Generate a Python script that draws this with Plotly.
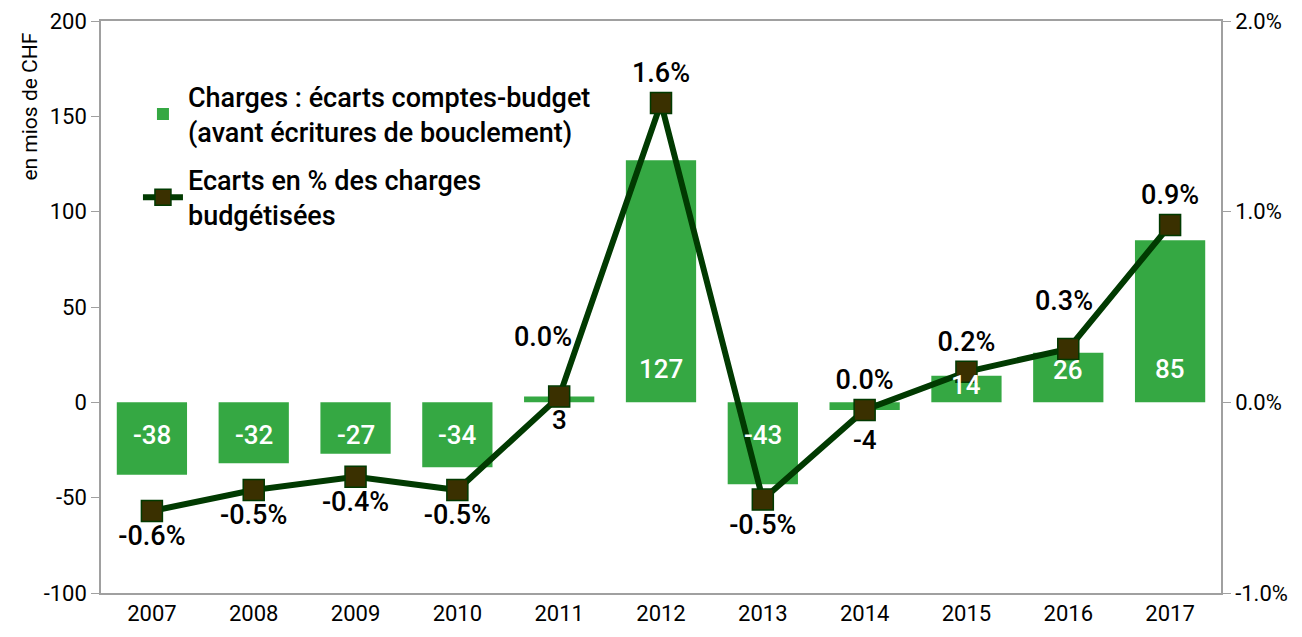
import plotly.graph_objects as go

years = ["2007", "2008", "2009", "2010", "2011", "2012", "2013", "2014", "2015", "2016", "2017"]
ecarts_mios = [-38, -32, -27, -34, 3, 127, -43, -4, 14, 26, 85]
ecarts_pct = [-0.57, -0.46, -0.39, -0.46, 0.03, 1.57, -0.51, -0.04, 0.16, 0.28, 0.93]
pct_label_pos = ["bottom center"] * 4 + ["top center", "top center", "bottom center",
                                          "top center", "top center", "top center", "top center"]

left_ticks = [-100, -50, 0, 50, 100, 150, 200]
right_ticks = [-1, 0, 1, 2]

FONT = "Roboto, Liberation Sans, sans-serif"
BAR_COLOR = "#35A843"
LINE_COLOR = "#013A01"
MARKER_COLOR = "#3A3000"
AXIS_COLOR = "#A0A0A0"


def pct_text(v):
    r = round(v, 1)
    if abs(r) < 0.05:
        r = 0.0
    return f"{r:.1f}%"


pct_texts = [pct_text(v) for v in ecarts_pct]
# labels that sit higher than the others in the reference: drawn as separate annotations
lifted = {4: (-16, 60), 9: (-4, 48)}

fig = go.Figure()

fig.add_trace(go.Bar(
    x=years, y=ecarts_mios, name="Charges : écarts comptes-budget<br>(avant écritures de bouclement)",
    marker=dict(color=BAR_COLOR, line=dict(width=0)),
    legendgroup="bars",
    yaxis="y", xaxis="x",
))

fig.add_trace(go.Scatter(
    x=years, y=ecarts_pct, name="Ecarts en % des charges<br>budgétisées",
    mode="lines+markers+text",
    text=["" if i in lifted else t for i, t in enumerate(pct_texts)], textposition=pct_label_pos,
    textfont=dict(family=FONT, size=27, color="black", weight=500),
    line=dict(color=LINE_COLOR, width=6),
    marker=dict(symbol="square", size=21, color=MARKER_COLOR, line=dict(color=LINE_COLOR, width=1.5)),
    legendgroup="line",
    yaxis="y2", xaxis="x",
))

for i, (dx, dy) in lifted.items():
    fig.add_annotation(x=i, y=ecarts_pct[i], xref="x", yref="y2", text=pct_texts[i], showarrow=False,
                       xshift=dx, yshift=dy, font=dict(family=FONT, size=27, color="black", weight=500))

# bar value labels (inside the bar near its base; small values below in black)
for i, v in enumerate(ecarts_mios):
    if abs(v) >= 10:
        off = min(33, abs(v) * 1.25)
        shift = off if v > 0 else -off
        col = "white"
    else:
        shift = -18 if v > 0 else -38
        col = "black"
    fig.add_annotation(x=i, y=0, xref="x", yref="y", text=str(v), showarrow=False,
                       yshift=shift, font=dict(family=FONT, size=26, color=col, weight=500))

fig.add_annotation(x=-0.063, y=0.984, xref="paper", yref="paper", text="en mios de CHF",
                   textangle=-90, showarrow=False, xanchor="center", yanchor="top",
                   font=dict(family=FONT, size=21, color="black"))

fig.update_layout(
    width=1294, height=629,
    margin=dict(l=93, r=81, t=13, b=44, autoexpand=False),
    paper_bgcolor="white", plot_bgcolor="white",
    font=dict(family=FONT, size=22, color="black"),
    bargap=0.31,
    showlegend=True,
    legend=dict(x=0.033, y=0.91, xanchor="left", yanchor="top", bgcolor="rgba(0,0,0,0)",
                font=dict(family=FONT, size=27, color="black", weight=500), tracegroupgap=10,
                traceorder="grouped", itemwidth=40),
    xaxis=dict(type="category", categoryarray=years, range=[-0.5, 10.5], automargin=False,
               showline=True, linecolor=AXIS_COLOR, linewidth=1.5, mirror=True,
               ticks="", showgrid=False, tickfont=dict(size=22), fixedrange=True),
    xaxis3=dict(overlaying="x", anchor="free", position=1/3, range=[-0.5, 10.5], automargin=False,
                tickvals=[i + 0.5 for i in range(len(years) - 1)], showticklabels=False,
                ticks="outside", ticklen=7, tickcolor=AXIS_COLOR, tickwidth=1.5,
                showline=True, linecolor=AXIS_COLOR, linewidth=1.5, showgrid=False, zeroline=False),
    xaxis4=dict(overlaying="x", anchor="free", position=1/3, range=[-0.5, 10.5], automargin=False,
                tickvals=[i + 0.5 for i in range(len(years) - 1)], showticklabels=False,
                ticks="inside", ticklen=7, tickcolor=AXIS_COLOR, tickwidth=1.5,
                showline=False, showgrid=False, zeroline=False),
    yaxis=dict(range=[-100, 200], tickvals=left_ticks, ticktext=[str(t) for t in left_ticks],
               automargin=False,
               showline=True, linecolor=AXIS_COLOR, linewidth=1.5, ticks="outside", ticklen=8,
               tickcolor=AXIS_COLOR, showgrid=False, zeroline=False, tickfont=dict(size=22)),
    yaxis2=dict(range=[-1, 2], overlaying="y", side="right", tickvals=right_ticks,
                ticktext=[f"{t:.1f}%" for t in right_ticks], automargin=False,
                showline=True, linecolor=AXIS_COLOR, linewidth=1.5, ticks="outside", ticklen=8,
                tickcolor=AXIS_COLOR, showgrid=False, zeroline=False, tickfont=dict(size=22)),
)

fig.write_html("out.html")
